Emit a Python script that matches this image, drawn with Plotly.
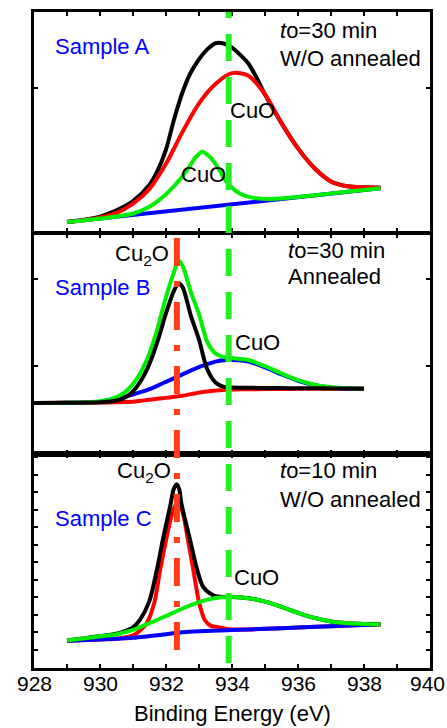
import plotly.graph_objects as go

# ---------------- data (intensity in a.u., each panel 0-100) ----------------
# Panel A : Sample A, t0 = 30 min, W/O annealed
A_X = [929, 929.5, 930, 930.5, 931, 931.5, 932, 932.5, 933, 933.5, 934, 934.5,
       935, 935.5, 936, 936.5, 937, 937.5, 938, 938.5]
A_RED = [4.5, 5.3, 6.6, 8.7, 12.9, 19.6, 31.0, 45.5, 58.5, 67.3, 72.2, 71.0,
         62.5, 49.5, 38.0, 29.0, 23.0, 20.8, 20.3, 20.1]
A_BLACK_X = [929, 929.5, 930, 930.5, 931, 931.5, 931.75, 932, 932.25, 932.5, 932.75,
             933, 933.25, 933.5, 933.75, 934, 934.25, 934.5, 934.75, 935, 935.5,
             936, 936.5, 937, 937.5, 938, 938.5]
A_BLACK = [4.6, 5.5, 7.0, 9.8, 14.0, 21.5, 28.0, 37.5, 51.5, 63.5, 72.5,
           78.5, 83.0, 85.8, 85.7, 83.8, 80.5, 76.5, 70.0, 62.5, 49.5,
           38.0, 29.0, 23.0, 20.8, 20.3, 20.1]
A_GREEN_X = [929, 930, 931, 931.5, 931.8, 932.1, 932.4, 932.7, 932.9, 933.1, 933.3,
             933.5, 933.8, 934.1, 934.4, 934.8, 935.2, 936, 937, 938, 938.5]
A_GREEN = [4.5, 6.1, 8.4, 11.5, 14.6, 18.6, 23.5, 29.5, 34.0, 36.5, 34.5,
           31.0, 23.5, 18.8, 16.4, 15.2, 15.0, 15.9, 17.5, 19.1, 19.9]
A_BLUE_X = [929, 938.5]
A_BLUE = [4.5, 19.9]

# Panel B : Sample B, t0 = 30 min, annealed
B_X = [928, 929, 930, 930.5, 930.75, 931, 931.25, 931.5, 931.75, 932, 932.25,
       932.38, 932.5, 932.75, 933, 933.25, 933.5, 933.75, 934, 934.5, 935,
       935.5, 936, 936.5, 937, 937.5, 938]
B_RED = [23.2, 23.3, 23.4, 23.5, 23.6, 23.7, 24.2, 24.7, 25.1, 25.5, 26.0,
         26.3, 26.5, 27.2, 27.9, 28.4, 28.8, 29.1, 29.3, 29.4, 29.5,
         29.55, 29.6, 29.65, 29.7, 29.7, 29.7]
B_BLUE = [23.2, 23.3, 23.8, 25.0, 26.0, 27.0, 28.2, 29.5, 31.1, 32.8, 34.5,
          35.4, 36.2, 37.9, 39.5, 40.8, 42.0, 42.6, 42.7, 42.0, 39.4,
          36.2, 33.3, 31.3, 30.2, 29.8, 29.7]
B_BLACK = [23.2, 23.3, 23.5, 24.3, 25.6, 28.5, 33.5, 41.0, 51.5, 64.0, 74.5,
           77.5, 76.0, 63.0, 52.0, 38.5, 32.5, 30.5, 30.2, 30.1, 30.0,
           29.95, 29.9, 29.85, 29.8, 29.75, 29.7]
B_GREEN = [23.2, 23.3, 24.0, 25.9, 28.0, 31.8, 37.5, 45.8, 57.5, 71.3, 83.0,
           88.0, 85.7, 73.7, 63.6, 50.9, 45.7, 44.0, 43.6, 42.7, 39.9,
           36.6, 33.6, 31.5, 30.3, 29.85, 29.7]

# Panel C : Sample C, t0 = 10 min, W/O annealed
C_BLUE_X = [929, 930, 931, 931.5, 932, 932.5, 933, 934, 935, 936, 937, 938.5]
C_BLUE = [12.7, 13.3, 14.1, 14.9, 15.8, 16.7, 17.2, 17.7, 18.3, 18.9, 19.5, 20.5]
C_RED_X = [929, 930, 930.5, 931, 931.1, 931.41, 931.64, 931.82, 932.02, 932.2,
           932.35, 932.5, 932.65, 932.83, 933.01, 933.18, 933.35, 933.54, 934,
           935, 936, 937, 938.5]
C_RED = [12.7, 13.3, 13.7, 15.3, 16.1, 20.8, 30.1, 45.6, 61.1, 73.0,
         77.4, 73.0, 61.1, 45.6, 30.1, 22.3, 19.8, 19.2, 18.0,
         18.3, 18.9, 19.5, 20.5]
C_BLACK_X = [929, 929.5, 930, 930.5, 930.75, 931, 931.21, 931.49, 931.72, 931.92,
             932.14, 932.23, 932.32, 932.4, 932.47, 932.71, 932.95, 933.13, 933.43,
             933.64, 934, 934.5, 935, 935.5, 936, 936.5, 937, 937.5, 938, 938.5]
C_BLACK = [13.0, 13.8, 14.9, 16.0, 17.2, 19.0, 22.5, 31.0, 45.6, 61.1,
           76.6, 83.4, 85.9, 83.6, 76.6, 61.1, 45.6, 37.8, 34.0,
           33.3, 33.2, 32.6, 31.0, 28.6, 25.8, 23.4, 21.7, 20.9, 20.6, 20.5]
C_GREEN_X = [929, 929.5, 930, 930.5, 931, 931.5, 932, 932.5, 933, 933.5, 933.9,
             934.5, 935, 935.5, 936, 936.5, 937, 937.5, 938, 938.5]
C_GREEN = [13.0, 13.8, 14.8, 15.8, 17.8, 21.0, 24.3, 27.8, 30.8, 32.7, 33.2,
           32.6, 31.0, 28.6, 25.8, 23.4, 21.7, 20.9, 20.6, 20.5]

CU2O_PEAK = 932.33
CUO_PEAK = 933.9

X_RANGE = [928, 940]
X_TICKS = [928, 930, 932, 934, 936, 938, 940]
X_TICK_LABELS = ["928", "930", "932", "934", "936", "938", "940"]

# ---------------- figure ----------------
W, H = 447, 728
ML, MR, MT, MB = 34, 17, 9, 60
PW, PH = W - ML - MR, H - MT - MB


def px(x):
    return (x - ML) / PW


def py(y):
    return (H - MB - y) / PH


BLACK, RED, GREEN, BLUE = "#000000", "#FF0000", "#00EE00", "#0000FF"
LW = 4
FONT = "Arial, Liberation Sans, sans-serif"
FS = 22

fig = go.Figure()


def add(x, y, color, ax):
    fig.add_trace(go.Scatter(x=x, y=y, mode="lines", xaxis="x" + ax, yaxis="y" + ax,
                             line=dict(color=color, width=LW, shape="spline", smoothing=0.8),
                             showlegend=False, hoverinfo="skip"))


# panel A : blue, black, red, green
add(A_BLUE_X, A_BLUE, BLUE, "")
add(A_BLACK_X, A_BLACK, BLACK, "")
add(A_X, A_RED, RED, "")
add(A_GREEN_X, A_GREEN, GREEN, "")
# panel B : red, blue, green, black
add(B_X, B_RED, RED, "2")
add(B_X, B_BLUE, BLUE, "2")
add(B_X, B_GREEN, GREEN, "2")
add(B_X, B_BLACK, BLACK, "2")
# panel C : red, blue, black, green
add(C_RED_X, C_RED, RED, "3")
add(C_BLUE_X, C_BLUE, BLUE, "3")
add(C_BLACK_X, C_BLACK, BLACK, "3")
add(C_GREEN_X, C_GREEN, GREEN, "3")

xcommon = dict(range=X_RANGE, autorange=False, showline=True, linecolor="black",
               linewidth=2.5, mirror="ticks", ticks="inside", ticklen=4, tickwidth=1.5,
               tickcolor="black", showgrid=False, zeroline=False, dtick=1,
               showticklabels=False)
ycommon = dict(range=[0, 100], autorange=False, showline=True, linecolor="black",
               linewidth=2.5, mirror="ticks", ticks="inside", ticklen=4, tickwidth=1.5,
               tickcolor="black", showgrid=False, zeroline=False, showticklabels=False)

fig.update_layout(
    width=W, height=H, margin=dict(l=ML, r=MR, t=MT, b=MB),
    paper_bgcolor="white", plot_bgcolor="white",
    font=dict(family=FONT, size=FS, color="black"),
    xaxis=dict(xcommon, anchor="y"),
    yaxis=dict(ycommon, domain=[py(230), 1.0], anchor="x", tick0=0, dtick=65.6),
    xaxis2=dict(xcommon, anchor="y2"),
    yaxis2=dict(ycommon, domain=[py(453), py(232)], anchor="x2", tick0=0, dtick=39.8),
    xaxis3=dict(xcommon, anchor="y3"),
    yaxis3=dict(ycommon, domain=[0, py(453)], anchor="x3", tick0=8.4, dtick=8.2),
)

# reference lines at peak energies
fig.add_shape(type="line", xref="x3", yref="paper", x0=CUO_PEAK, x1=CUO_PEAK,
              y0=py(663), y1=1.0, layer="above",
              line=dict(color="#22EE22", width=6, dash="27px,16px"))
fig.add_shape(type="line", xref="x3", yref="paper", x0=CU2O_PEAK, x1=CU2O_PEAK,
              y0=py(650), y1=py(230), layer="above",
              line=dict(color="#FF3C14", width=6, dash="28px,15px,6px,15px"))

# x tick labels (drawn as text at the tick positions of the bottom axis)
for v, lab in zip(X_TICKS, X_TICK_LABELS):
    fig.add_annotation(text=lab, xref="x3", yref="paper", x=v, y=py(684),
                       xanchor="center", yanchor="middle", showarrow=False,
                       xshift=-3 if v == X_RANGE[1] else 0,
                       font=dict(family=FONT, size=FS - 1, color="black"))


def note(text, x, y, color="black", anchor="left"):
    fig.add_annotation(text=text, xref="paper", yref="paper", x=px(x), y=py(y),
                       xanchor=anchor, yanchor="middle", showarrow=False,
                       font=dict(family=FONT, size=FS, color=color))


note("Sample A", 53, 44, BLUE)
note("<i>t</i>o=30 min", 278, 28)
note("W/O annealed", 278, 56)
note("CuO", 228, 108)
note("CuO", 179, 172)

note("Cu<sub>2</sub>O", 113, 253)
note("Sample B", 53, 286, BLUE)
note("<i>t</i>o=30 min", 286, 249)
note("Annealed", 286, 275)
note("CuO", 233, 341)

note("Cu<sub>2</sub>O", 115, 471)
note("<i>t</i>o=10 min", 278, 470)
note("W/O annealed", 278, 499)
note("Sample C", 53, 518, BLUE)
note("CuO", 232, 577)

note("Binding Energy (eV)", 232, 714, anchor="center")

fig.write_html("out.html", config={"displayModeBar": False},
               post_script="document.body.style.margin='0px';")
